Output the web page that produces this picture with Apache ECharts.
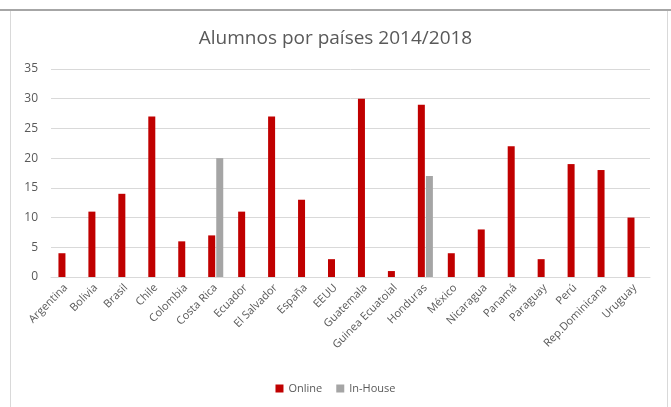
<!DOCTYPE html>
<html>
<head>
<meta charset="utf-8">
<script src="https://cdn.jsdelivr.net/npm/echarts@6/dist/echarts.min.js"></script>
<style>
  html, body { margin: 0; padding: 0; background: #fff; }
  #chart { width: 671px; height: 407px; }
</style>
</head>
<body>
<div id="chart"></div>
<script>
const paises = ['Argentina', 'Bolivia', 'Brasil', 'Chile', 'Colombia', 'Costa Rica', 'Ecuador',
  'El Salvador', 'España', 'EEUU', 'Guatemala', 'Guinea Ecuatoial', 'Honduras', 'México',
  'Nicaragua', 'Panamá', 'Paraguay', 'Perú', 'Rep.Dominicana', 'Uruguay'];
const online = [4, 11, 14, 27, 6, 7, 11, 27, 13, 3, 30, 1, 29, 4, 8, 22, 3, 19, 18, 10];
const inHouse = [null, null, null, null, null, 20, null, null, null, null, null, null, 17,
  null, null, null, null, null, null, null];

const font = '"Open Sans", "Noto Sans", sans-serif';
const textGray = '#595959';

const myChart = echarts.init(document.getElementById('chart'));
const options = {
  animation: false,
  textStyle: { fontFamily: font },
  graphic: [
    { type: 'rect', shape: { x: 10.5, y: 10.5, width: 657, height: 420 }, style: { fill: 'none', stroke: '#d9d9d9', lineWidth: 1 } },
    { type: 'line', shape: { x1: 0, y1: 10, x2: 671, y2: 10 }, style: { stroke: '#a6a6a6', lineWidth: 2 } },
  ],
  title: {
    text: 'Alumnos por países 2014/2018',
    left: 'center',
    top: 24,
    textStyle: { color: textGray, fontSize: 19, fontWeight: 'normal', fontFamily: font },
  },
  legend: {
    bottom: 8,
    left: 'center',
    itemWidth: 8,
    itemHeight: 8,
    itemGap: 14,
    icon: 'rect',
    textStyle: { color: textGray, fontSize: 11, fontFamily: font },
    data: ['Online', 'In-House'],
  },
  grid: { left: 51, right: 21, top: 69, bottom: 130 },
  xAxis: {
    type: 'category',
    data: paises,
    axisLine: { lineStyle: { color: '#d9d9d9' } },
    axisTick: { show: false },
    axisLabel: { rotate: 45, color: textGray, fontSize: 11, margin: 9, interval: 0, fontFamily: font },
  },
  yAxis: {
    type: 'value',
    min: 0,
    max: 35,
    interval: 5,
    axisLine: { show: false },
    axisTick: { show: false },
    splitLine: { lineStyle: { color: '#d9d9d9' } },
    axisLabel: { color: textGray, fontSize: 12, margin: 13, fontFamily: font },
  },
  series: [
    { name: 'Online', type: 'bar', data: online, barWidth: 7, barGap: '15%', itemStyle: { color: '#c00000' } },
    { name: 'In-House', type: 'bar', data: inHouse, barWidth: 7, itemStyle: { color: '#a5a5a5' } },
  ],
};
myChart.setOption(options);
</script>
</body>
</html>
